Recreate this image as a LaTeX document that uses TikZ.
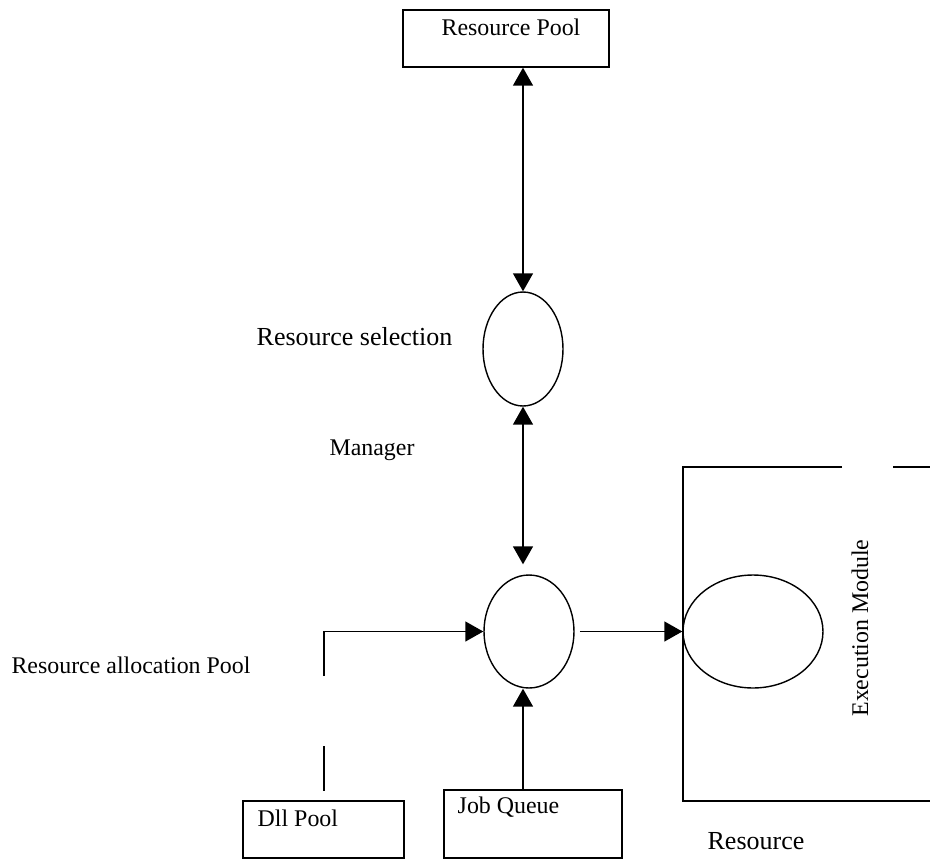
\documentclass[tikz,border=0pt]{standalone}
\usepackage{fontspec}
\setmainfont{Liberation Serif}
\usetikzlibrary{arrows.meta,shapes.geometric,positioning,calc}

\tikzset{
  box/.style={draw,rectangle,inner sep=0pt},
  blob/.style={draw,ellipse,inner sep=0pt},
  lbl/.style={inner sep=0pt,font=\fontsize{13.6pt}{16pt}\selectfont},
  biglbl/.style={inner sep=0pt,font=\fontsize{14.8pt}{17pt}\selectfont},
  arr/.style={-{Triangle[length=3.6mm,width=4mm]}},
  darr/.style={{Triangle[length=3.6mm,width=4mm]}-{Triangle[length=3.6mm,width=4mm]}}
}

\begin{document}
\begin{tikzpicture}[x=0.02cm,y=-0.02cm,line width=0.8pt]
  \useasboundingbox (0,0) rectangle (930,859);

  \node[box,minimum width=4.12cm,minimum height=1.14cm] (rpool) at (506,38.5) {};
  \node[lbl] (rpooltxt) at (511,27) {Resource Pool};

  \node[blob,minimum width=1.6cm,minimum height=2.28cm] (sel) at (523,349) {};
  \node[blob,minimum width=1.8cm,minimum height=2.26cm] (mgr) at (529,631.5) {};
  \node[blob,minimum width=2.8cm,minimum height=2.26cm] (exec) at (753,631.5) {};

  \node[box,minimum width=3.22cm,minimum height=1.14cm] (dll) at (323.5,829.5) {};
  \node[lbl,anchor=west] (dlltxt) at (257,818) {Dll Pool};
  \node[box,minimum width=3.56cm,minimum height=1.36cm] (jq) at (533,824) {};
  \node[lbl,anchor=west] (jqtxt) at (457,807) {Job Queue};

  \node[biglbl] (seltxt) at (354.5,337) {Resource selection};
  \node[lbl] (mgrtxt) at (372,450) {Manager};
  \node[lbl] (alloctxt) at (131,665) {Resource allocation Pool};
  \node[biglbl] (restxt) at (756,841) {Resource};
  \node[lbl,rotate=90] (exectxt) at (860,628) {Execution Module};

  \draw (842,467) -- (683,467) -- (683,801) -- (930,801);
  \draw (893,467) -- (930,467);

  \draw[darr] (sel.north |- rpool.south) -- (sel.north);
  \coordinate (mgrtop) at ($(sel.south |- mgr.north)+(0,-10)$);
  \draw[darr] (sel.south) -- (mgrtop);

  \coordinate (up1) at (324,676);
  \coordinate (lo1) at (324,746);
  \coordinate (lo2) at (324,791);
  \draw[arr] (up1) |- (mgr.west);
  \draw (lo1) -- (lo2);

  \coordinate (jqtop) at (523,790);
  \draw[arr] (jqtop) -- (jqtop |- mgr.south);
  \draw[arr,shorten <=3pt] (mgr.east) -- (exec.west);
\end{tikzpicture}
\end{document}
